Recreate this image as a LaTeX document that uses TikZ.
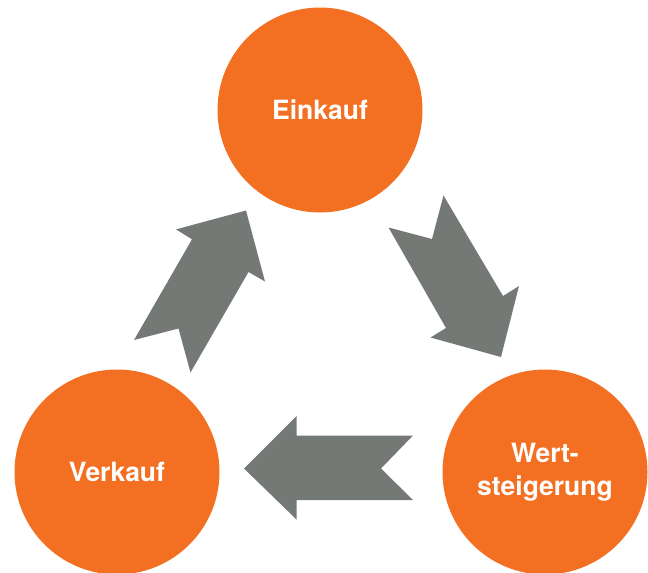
\documentclass[tikz,border=0pt]{standalone}
\usepackage{fontspec}
\setmainfont{TeX Gyre Heros}
\definecolor{orng}{RGB}{243,112,34}
\definecolor{arrgrey}{RGB}{116,121,117}
\begin{document}
\begin{tikzpicture}[x=1pt,y=-1pt,
  stage/.style={circle,fill=orng,draw=none,minimum size=205pt,inner sep=0pt,
    text=white,font=\fontsize{26.5}{33}\selectfont\bfseries,align=center},
  blockarrow/.style={fill=arrgrey,draw=none}]
\useasboundingbox (0,0) rectangle (648,573);
\node[stage] (ein) at (320,110) {Einkauf};
\node[stage] (wert) at (545,472) {Wert-\\steigerung};
\node[stage] (ver) at (117,472) {Verkauf};
% Verkauf -> Einkauf
\fill[blockarrow] (246,210.5) -- (265,281.5) -- (248.5,272) -- (190.5,372.5)
  -- (178.5,328.5) -- (134,340) -- (192,239.3) -- (176,229.4) -- cycle;
% Einkauf -> Wertsteigerung
\fill[blockarrow] (443.5,195.5) -- (432,239) -- (388.5,227.5) -- (446,328)
  -- (430.5,337.5) -- (501,357) -- (519,286) -- (503,296) -- cycle;
% Wertsteigerung -> Verkauf
\fill[blockarrow] (244,468.5) -- (296.5,416) -- (296.5,435.5) -- (413,435.5)
  -- (381,468.5) -- (413,500) -- (296.5,500) -- (296.5,519.5) -- cycle;
\end{tikzpicture}
\end{document}
